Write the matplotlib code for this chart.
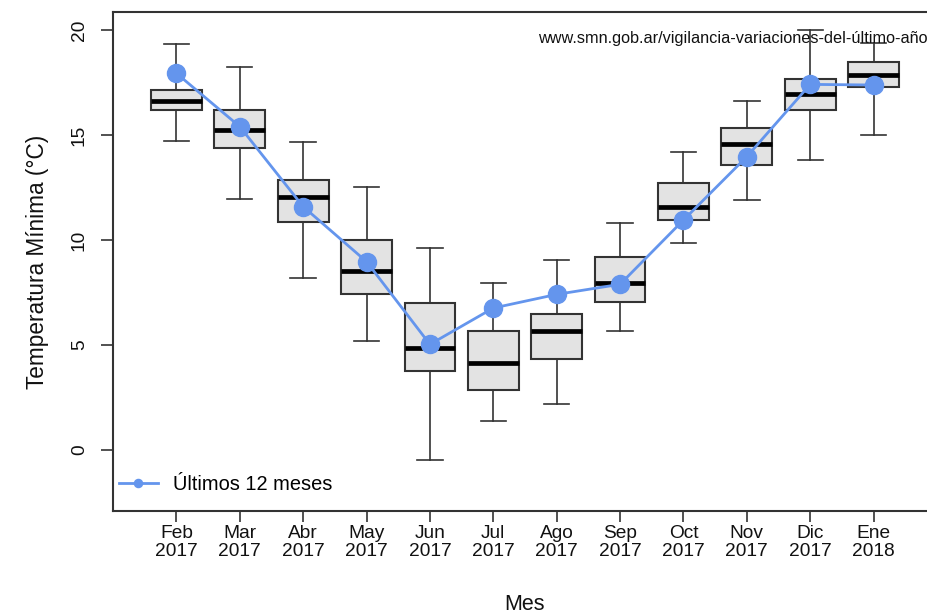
import matplotlib
matplotlib.use("Agg")
import matplotlib.pyplot as plt

plt.rcParams["font.family"] = ["Liberation Sans", "DejaVu Sans"]

meses = ["Feb\n2017", "Mar\n2017", "Abr\n2017", "May\n2017", "Jun\n2017", "Jul\n2017",
         "Ago\n2017", "Sep\n2017", "Oct\n2017", "Nov\n2017", "Dic\n2017", "Ene\n2018"]
bigote_inf = [14.73, 11.95, 8.17, 5.17, -0.46, 1.37, 2.18, 5.68, 9.84, 11.89, 13.79, 15.01]
cuartil_1 = [16.19, 14.37, 10.87, 7.43, 3.78, 2.84, 4.35, 7.06, 10.94, 13.57, 16.19, 17.27]
mediana = [16.63, 15.24, 12.05, 8.54, 4.87, 4.14, 5.67, 7.94, 11.59, 14.57, 16.94, 17.87]
cuartil_3 = [17.14, 16.19, 12.84, 10.00, 6.98, 5.67, 6.48, 9.17, 12.70, 15.32, 17.65, 18.46]
bigote_sup = [19.35, 18.24, 14.65, 12.54, 9.62, 7.94, 9.05, 10.79, 14.21, 16.63, 20.00, 19.40]
ultimos_12 = [17.94, 15.40, 11.59, 8.97, 5.03, 6.76, 7.41, 7.89, 10.95, 13.97, 17.41, 17.38]

oscuro = "#333333"
azul = "#6495ED"

fig = plt.figure(figsize=(9.28, 6.13), dpi=100)
ax = fig.add_axes([113 / 928, 1 - 511 / 613, 824 / 928, 499 / 613])

stats = []
for i in range(len(meses)):
    stats.append(dict(whislo=bigote_inf[i], q1=cuartil_1[i], med=mediana[i],
                      q3=cuartil_3[i], whishi=bigote_sup[i], fliers=[]))

posiciones = list(range(1, len(meses) + 1))
ax.bxp(stats, positions=posiciones, widths=0.8, patch_artist=True, showfliers=False,
       boxprops=dict(facecolor="#e3e3e3", edgecolor=oscuro, linewidth=1.5),
       medianprops=dict(color="black", linewidth=3.4, solid_capstyle="butt"),
       whiskerprops=dict(color=oscuro, linewidth=1.2),
       capprops=dict(color=oscuro, linewidth=1.2),
       capwidths=0.4, zorder=2)

ax.plot(posiciones, ultimos_12, color=azul, linewidth=2, marker="o", markersize=13,
        zorder=4, label="Últimos 12 meses")

ax.set_xlim(0, 13)
ax.set_ylim(-2.905, 20.857)
ax.set_xticks(posiciones)
ax.set_xticklabels(meses, fontsize=13.8, linespacing=1.12, color="#111111")
ax.set_yticks([0, 5, 10, 15, 20])
ax.set_yticklabels(["0", "5", "10", "15", "20"], rotation=90, va="center",
                   fontsize=13.8, color="#111111")
ax.tick_params(axis="x", length=8, width=1.2, color=oscuro, pad=2)
ax.tick_params(axis="y", length=9, width=1.2, color=oscuro, pad=9)

for lado in ["left", "top", "bottom"]:
    ax.spines[lado].set_color(oscuro)
    ax.spines[lado].set_linewidth(1.5)
ax.spines["right"].set_visible(False)

ax.set_xlabel("Mes", fontsize=15.5, labelpad=24, color="#111111")
ax.set_ylabel("Temperatura Mínima (°C)", fontsize=16.3, labelpad=16, color="#111111")

ax.text(815 / 824, (511 - 38.5) / 499, "www.smn.gob.ar/vigilancia-variaciones-del-último-año",
        transform=ax.transAxes, ha="right", va="center", fontsize=11.7, color="#111111",
        zorder=3)

ax.legend(loc="lower left", bbox_to_anchor=(6 / 824, 0.035), frameon=False,
          fontsize=14.4, handlelength=1.95, handletextpad=0.75, borderpad=0,
          borderaxespad=0, markerscale=0.45)

fig.savefig("out.png", dpi=100)
